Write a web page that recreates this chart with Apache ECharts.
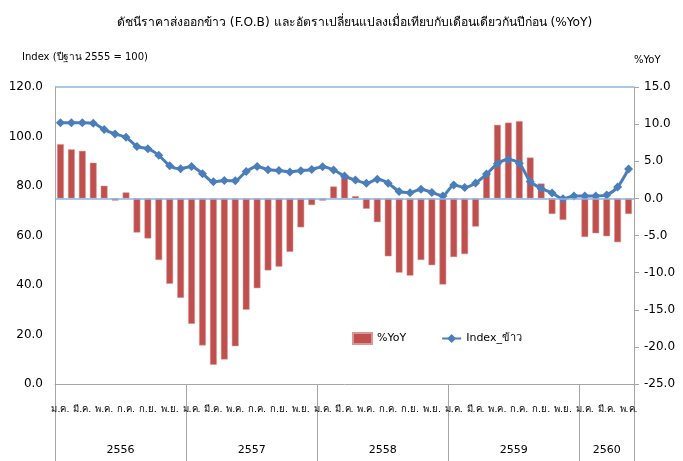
<!DOCTYPE html>
<html>
<head>
<meta charset="utf-8">
<script src="https://cdn.jsdelivr.net/npm/echarts@6/dist/echarts.min.js"></script>
<style>
html,body{margin:0;padding:0;background:#fff;}
#chart{width:683px;height:461px;}
</style>
</head>
<body>
<div id="chart"></div>
<script>
const months = ['ม.ค.','ก.พ.','มี.ค.','เม.ย.','พ.ค.','มิ.ย.','ก.ค.','ส.ค.','ก.ย.','ต.ค.','พ.ย.','ธ.ค.'];
const years = ['2556','2557','2558','2559','2560'];
const monthsPerYear = [12,12,12,12,5];
const categories = [];
years.forEach((y, k) => { for (let m = 0; m < monthsPerYear[k]; m++) categories.push(months[m] + ' ' + y); });

const yoyValues = [7.3, 6.6, 6.4, 4.8, 1.7, -0.3, 0.8, -4.6, -5.4, -8.3, -11.5,
  -13.4, -16.9, -19.8, -22.4, -21.7, -19.9, -15.0, -12.1, -9.7, -9.2, -7.2,
  -3.9, -0.9, -0.3, 1.6, 2.9, 0.3, -1.4, -3.2, -7.8, -10.0, -10.4,
  -8.3, -9.0, -11.6, -7.9, -7.5, -3.8, 3.2, 9.9, 10.2, 10.4, 5.5,
  2.0, -2.1, -2.9, 0, -5.2, -4.7, -5.1, -5.9, -2.1];
const indexValues = [105.6, 105.6, 105.6, 105.4, 102.8, 101.0, 99.7, 96.0, 95.1, 92.4,
  88.2, 87.0, 87.9, 85.0, 81.7, 82.2, 82.1, 85.9, 87.9, 86.6,
  86.3, 85.7, 86.2, 86.7, 87.8, 86.5, 84.0, 82.4, 81.1, 82.7,
  81.1, 77.8, 77.3, 78.7, 77.4, 76.0, 80.4, 79.4, 81.2, 84.8,
  89.0, 90.7, 89.2, 81.8, 79.0, 77.2, 74.8, 76.0, 76.0, 76.0,
  76.4, 79.6, 86.9];
const leftTicks = {min: 0, max: 120, interval: 20};
const rightTicks = {min: -25, max: 15, interval: 5};

// year label positions (in months from start): middle of each year block
const yearCenters = {};
let acc = 0;
years.forEach((y, k) => { yearCenters[(acc + monthsPerYear[k] / 2).toFixed(1)] = y; acc += monthsPerYear[k]; });
const totalMonths = acc;

const FONT = 'Tahoma, "DejaVu Sans", "Noto Sans", sans-serif';
const chart = echarts.init(document.getElementById('chart'));
chart.setOption({
  animation: false,
  textStyle: {fontFamily: FONT},
  title: [
    {text: 'ดัชนีราคาส่งออกข้าว (F.O.B) และอัตราเปลี่ยนแปลงเมื่อเทียบกับเดือนเดียวกันปีก่อน (%YoY)',
     left: 112, top: 12,
     textStyle: {fontSize: 12.2, fontWeight: 'normal', color: '#000', fontFamily: FONT}},
    {text: 'Index (ปีฐาน 2555 = 100)', left: 17, top: 47,
     textStyle: {fontSize: 10, fontWeight: 'normal', color: '#000', fontFamily: FONT}},
    {text: '%YoY', left: 629, top: 50,
     textStyle: {fontSize: 10, fontWeight: 'normal', color: '#000', fontFamily: FONT}}
  ],
  legend: {
    left: 347, top: 327, itemGap: 35, itemWidth: 19, itemHeight: 11,
    textStyle: {fontSize: 11, color: '#000', fontFamily: FONT},
    data: [{name: '%YoY', icon: 'rect'}, {name: 'Index_ข้าว'}]
  },
  grid: {left: 55, right: 49, top: 87, bottom: 77, containLabel: false},
  xAxis: [
    {type: 'category', data: categories, boundaryGap: true, position: 'bottom',
     axisLine: {show: true, onZero: false, lineStyle: {color: '#A6A6A6', width: 1}},
     axisTick: {show: true, length: 77, interval: (i) => i % 12 === 0,
                lineStyle: {color: '#A6A6A6', width: 1}},
     axisLabel: {interval: 1, margin: 21, fontSize: 9.5, color: '#000',
                 formatter: (v) => v.split(' ')[0]},
     splitLine: {show: false}},
    {type: 'value', min: 0, max: totalMonths, interval: 0.5, position: 'bottom',
     axisLine: {show: false}, axisTick: {show: false}, splitLine: {show: false},
     axisLabel: {margin: 61, fontSize: 11, color: '#000', showMinLabel: true, showMaxLabel: true,
                 formatter: (v) => yearCenters[v.toFixed(1)] || ''}}
  ],
  yAxis: [
    {type: 'value', min: leftTicks.min, max: leftTicks.max, interval: leftTicks.interval, position: 'left',
     axisLine: {show: true, lineStyle: {color: '#A6A6A6'}},
     axisTick: {show: false}, splitLine: {show: false},
     axisLabel: {margin: 12, fontSize: 12, color: '#000', formatter: (v) => v.toFixed(1)}},
    {type: 'value', min: rightTicks.min, max: rightTicks.max, interval: rightTicks.interval, position: 'right',
     axisLine: {show: true, lineStyle: {color: '#A6A6A6'}},
     axisTick: {show: true, inside: false, length: 5, lineStyle: {color: '#A6A6A6'}},
     splitLine: {show: false},
     axisLabel: {margin: 10, fontSize: 12, color: '#000', formatter: (v) => v.toFixed(1)}}
  ],
  series: [
    {name: '%YoY', type: 'bar', xAxisIndex: 0, yAxisIndex: 1, data: yoyValues,
     barCategoryGap: '38%',
     itemStyle: {color: '#C0504D', borderColor: '#D99694', borderWidth: 0.5},
     markLine: {silent: true, symbol: 'none', label: {show: false},
                lineStyle: {color: '#8EB4E3', type: 'solid', width: 1.5},
                data: [{yAxis: 0}, {yAxis: rightTicks.max}]},
     z: 2},
    {name: 'Index_ข้าว', type: 'line', xAxisIndex: 0, yAxisIndex: 0, data: indexValues,
     smooth: 0.25, symbol: 'diamond', symbolSize: 9, showSymbol: true, showAllSymbol: true,
     lineStyle: {color: '#4A7EBB', width: 3},
     itemStyle: {color: '#4A7EBB'}, z: 3}
  ]
});
</script>
</body>
</html>
